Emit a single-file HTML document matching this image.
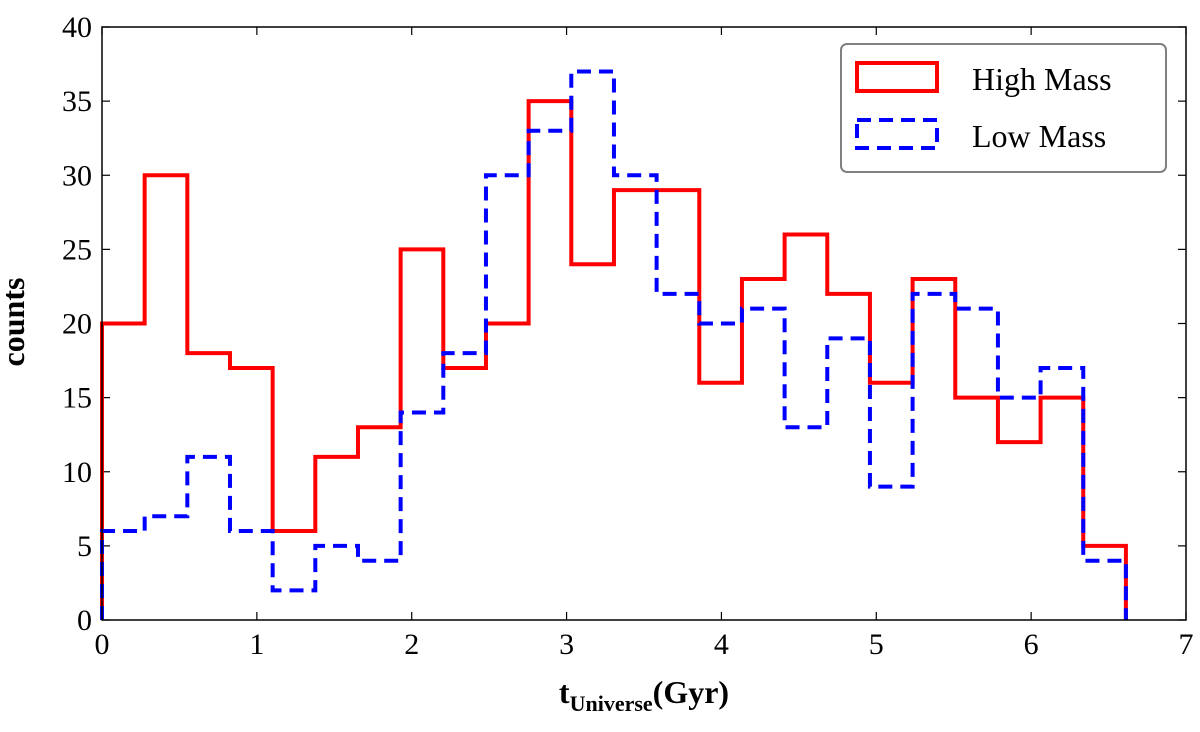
<!DOCTYPE html>
<html><head><meta charset="utf-8"><style>
body{margin:0;background:#fff;}
svg text{font-family:"Liberation Serif",serif;}
</style></head><body>
<svg width="1200" height="727" xmlns="http://www.w3.org/2000/svg">
<g id="ticks"></g>
<g id="bars"></g>
<rect x="102" y="27" width="1084" height="593" fill="none" stroke="#000" stroke-width="1.5"/>
<text x="24" y="322" font-size="32" font-weight="bold" transform="rotate(-90 24 322)" text-anchor="middle">counts</text>
<text x="644" y="703" font-size="32" font-weight="bold" text-anchor="middle">t<tspan font-size="22" dy="8">Universe</tspan><tspan dy="-8">(Gyr)</tspan></text>
<g>
<rect x="841" y="44" width="325" height="128" rx="6" fill="#fff" stroke="#808080" stroke-width="2"/>
<rect x="857" y="63" width="80" height="28" fill="none" stroke="#f00" stroke-width="4"/>
<text x="972" y="90" font-size="32">High Mass</text>
<rect x="857" y="120" width="80" height="28" fill="none" stroke="#00f" stroke-width="4" stroke-dasharray="14,8"/>
<text x="972" y="147" font-size="32">Low Mass</text>
</g>
</svg>
<script>
const binWidth = 0.2755;
const highMass = [20,30,18,17,6,11,13,25,17,20,35,24,29,29,16,23,26,22,16,23,15,12,15,5];
const lowMass = [6,7,11,6,2,5,4,14,18,30,33,37,30,22,20,21,13,19,9,22,21,15,17,4];
const xTicks = [0,1,2,3,4,5,6,7];
const yTicks = [0,5,10,15,20,25,30,35,40];
const X0=102,X1=1186,Y0=620,Y1=27;
const xs = v => X0 + v/7*(X1-X0);
const ys = v => Y0 - v/40*(Y0-Y1);
const NS="http://www.w3.org/2000/svg";
const tk=document.getElementById('ticks');
function mk(tag,attrs,parent){const e=document.createElementNS(NS,tag);for(const k in attrs)e.setAttribute(k,attrs[k]);parent.appendChild(e);return e;}
xTicks.forEach(t=>{
  const x=xs(t);
  const l1=mk('line',{x1:x,x2:x,y1:Y0,y2:Y0-8,stroke:'#000','stroke-width':1.2},tk);
  
  
  mk('line',{x1:x,x2:x,y1:Y1,y2:Y1+8,stroke:'#000','stroke-width':1.2},tk);
  const tx=mk('text',{x:x,y:Y0+34,'font-size':30,'text-anchor':'middle'},tk);
  tx.textContent=t;
  
  
});
yTicks.forEach(t=>{
  const y=ys(t);
  const l1=mk('line',{x1:X0,x2:X0+8,y1:y,y2:y,stroke:'#000','stroke-width':1.2},tk);
  
  
  mk('line',{x1:X1,x2:X1-8,y1:y,y2:y,stroke:'#000','stroke-width':1.2},tk);
  const tx=mk('text',{x:X0-10,y:y+10,'font-size':30,'text-anchor':'end'},tk);
  tx.textContent=t;
  
  
});
function stepPath(vals){
  let d='M'+xs(0)+','+ys(0);
  vals.forEach((v,i)=>{d+=' L'+xs(i*binWidth)+','+ys(v)+' L'+xs((i+1)*binWidth)+','+ys(v);});
  d+=' L'+xs(vals.length*binWidth)+','+ys(0);
  return d;
}
const bars=document.getElementById('bars');
const p1=mk('path',{d:stepPath(highMass),fill:'none',stroke:'#f00','stroke-width':4},bars);


const p2=mk('path',{d:stepPath(lowMass),fill:'none',stroke:'#00f','stroke-width':4,'stroke-dasharray':'14,8'},bars);


</script>
</body></html>
